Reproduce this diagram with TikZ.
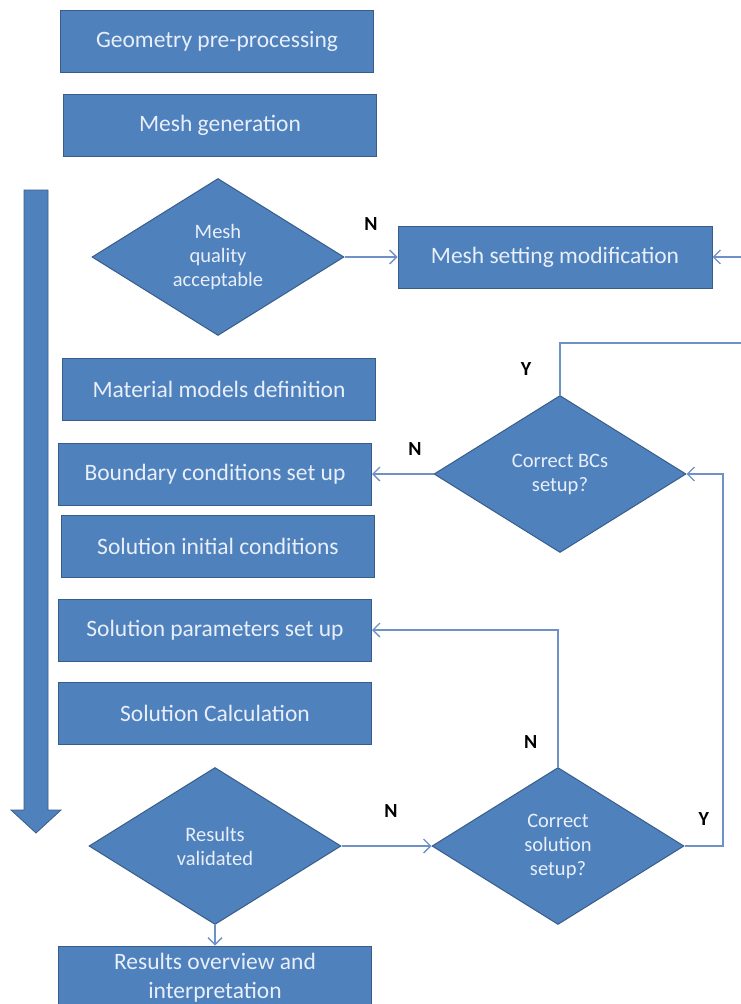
\documentclass[tikz,border=0pt]{standalone}
\usepackage{fontspec}
\setmainfont{Carlito}
\usetikzlibrary{arrows.meta, positioning, shapes.geometric}

\definecolor{boxfill}{RGB}{79,129,189}
\definecolor{boxline}{RGB}{56,93,138}
\definecolor{linkcol}{RGB}{110,145,200}
\definecolor{boxtext}{RGB}{232,239,250}

\begin{document}
\begin{tikzpicture}[
    x=1pt, y=-1pt,
    stepbox/.style={rectangle, draw=boxline, fill=boxfill, line width=1pt, text=boxtext,
        minimum width=313pt, minimum height=62pt, inner sep=0pt, align=center,
        font=\fontsize{23.5}{29}\selectfont},
    decision/.style={diamond, draw=boxline, fill=boxfill, line width=1pt, text=boxtext,
        minimum width=252pt, minimum height=157pt, inner sep=0pt, align=center,
        font=\fontsize{20.5}{24}\selectfont},
    lbl/.style={font=\fontsize{20}{22}\selectfont\bfseries, text=black, inner sep=0pt},
    edge/.style={-{Straight Barb[length=7pt, width=14pt]}, line width=1.3pt, color=linkcol}
]
\useasboundingbox (0,0) rectangle (740,1004);

% Big process arrow
\fill[boxfill, draw=boxline, line width=0.8pt] (24,190) -- (48,190) -- (48,810) -- (61,810)
    -- (36,833) -- (11,810) -- (24,810) -- cycle;

% Nodes
\node[stepbox] (geo) at (217,41) {Geometry pre-processing};
\node[stepbox] (meshgen) at (220,125) {Mesh generation};
\node[decision] (meshq) at (218,257) {Mesh\\quality\\acceptable};
\node[stepbox, minimum width=314pt] (msm) at (555,257) {Mesh setting modification};
\node[stepbox] (mat) at (219,389) {Material models definition};
\node[stepbox] (bcbox) at (215,474) {Boundary conditions set up};
\node[decision] (bcs) at (560,474) {Correct BCs\\setup?};
\node[stepbox] (solinit) at (218,546) {Solution initial conditions};
\node[stepbox] (solpar) at (215,630) {Solution parameters set up};
\node[stepbox] (solcalc) at (215,713) {Solution Calculation};
\node[decision] (results) at (215,846) {Results\\validated};
\node[decision] (corrsol) at (558,846) {Correct\\solution\\setup?};
\node[stepbox, minimum height=64pt] (overview) at (215,978) {Results overview and\\interpretation};

\coordinate (loopR) at (752,343);
\coordinate (sideR) at (723,846);

% Edges
\draw[edge] (meshq.east) -- node[lbl, above=26pt] {N} (msm.west);
\draw[edge] (bcs.north) |- node[lbl, pos=0.25, left=28pt] {Y} (loopR) |- (msm.east);
\draw[edge] (bcs.west) -- node[lbl, pos=0.3, above=18pt] {N} (bcbox.east);
\draw[edge] (results.east) -- node[lbl, pos=0.55, above=28pt] {N} (corrsol.west);
\draw[edge] (corrsol.north) |- node[lbl, pos=0.09, left=20pt] {N} (solpar.east);
\draw[edge] (corrsol.east) -- node[lbl, above=20pt] {Y} (sideR) |- (bcs.east);
\draw[edge] (results.south) -- (overview.north);

\end{tikzpicture}
\end{document}
